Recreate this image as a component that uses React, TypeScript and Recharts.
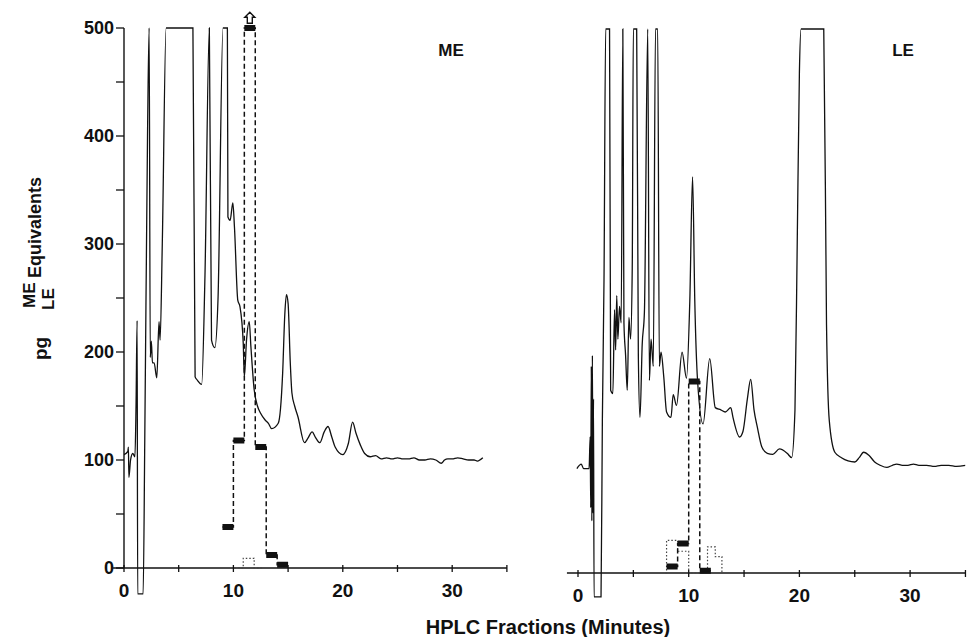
import { ComposedChart, Line, Scatter, XAxis, YAxis, ReferenceLine } from 'recharts'

// ---- data (minutes, pg equivalents) ----
const meTime = [
  0, 0.35, 0.4, 0.45, 0.6, 0.8, 1.0, 1.1, 1.2, 1.25, 1.75, 1.9, 2.15, 2.3, 2.4, 2.5, 2.6, 2.75, 3.0, 3.2,
  3.3, 3.5, 3.85, 6.3, 6.5, 6.7, 7.1, 7.4, 7.8, 8.0, 8.3, 8.6, 9.05, 9.45, 9.5, 9.7, 9.95, 10.1, 10.4, 10.6,
  10.9, 11.0, 11.2, 11.45, 11.6, 11.9, 12.2, 12.5, 12.9, 13.2, 13.5, 14.1, 14.5, 14.7, 14.85, 15.0, 15.2, 15.35, 15.6, 15.9,
  16.5, 16.8, 17.2, 17.5, 17.9, 18.3, 18.65, 19.0, 19.3, 20.0, 20.5, 20.9, 21.2, 21.6, 22.0, 22.5, 23.0, 23.5, 24.0, 24.5,
  25.0, 25.5, 26.0, 26.5, 27.0, 27.5, 28.0, 28.5, 29.0, 29.3, 29.6, 30.0, 30.5, 31.0, 31.5, 32.0, 32.3, 32.8,
]
const meSignal = [
  105, 108, 112, 84, 100, 106, 103, 150, 229, -24, -24, 120, 400, 500, 195, 210, 190, 190, 176, 228,
  211, 300, 500, 500, 177, 174, 170, 270, 500, 211, 204, 251, 500, 500, 325, 322, 338, 315, 248, 242,
  208, 177, 211, 228, 205, 165, 150, 143, 137, 134, 129, 134, 180, 235, 253, 245, 190, 162, 150, 140,
  116, 120, 126, 121, 116, 126, 131, 121, 112, 105, 115, 135, 125, 114, 106, 103, 104, 101, 102, 101,
  102, 101, 101, 102, 100, 100, 101, 100, 97, 100, 101, 101, 102, 101, 100, 100, 99, 102,
]

const leTime = [
  -0.1, 0.3, 0.5, 1.0, 1.1, 1.15, 1.2, 1.25, 1.3, 1.35, 1.4, 1.45, 2.08, 2.2, 2.35, 2.5, 2.85, 2.95, 3.15, 3.3,
  3.4, 3.5, 3.6, 3.75, 3.9, 4.05, 4.15, 4.3, 4.45, 4.6, 4.75, 4.9, 5.0, 5.3, 5.45, 5.6, 5.8, 6.0, 6.3, 6.45,
  6.6, 6.8, 7.0, 7.2, 7.35, 7.5, 7.75, 8.0, 8.4, 8.6, 8.9, 9.4, 9.8, 10.1, 10.35, 10.55, 10.8, 11.3, 11.9, 12.4,
  12.9, 13.3, 13.8, 14.0, 14.6, 14.9, 15.3, 15.6, 15.9, 16.2, 16.6, 17.1, 17.6, 18.2, 18.9, 19.3, 19.6, 19.8, 20.0, 20.15,
  22.2, 22.45, 22.7, 23.2, 23.8, 24.4, 25.0, 25.4, 25.8, 26.3, 26.8, 27.3, 27.9, 28.4, 28.8, 29.3, 29.8, 30.3, 30.8, 31.5,
  32.2, 32.8, 33.5, 34.2, 35.0,
]
const leSignal = [
  96, 100, 96, 96, 125, 60, 190, 48, 200, 55, 160, -22, -22, 140, 270, 500, 500, 168, 165, 242,
  205, 255, 215, 245, 230, 500, 230, 200, 168, 235, 215, 280, 500, 500, 200, 143, 210, 240, 500, 177,
  215, 190, 500, 500, 190, 203, 180, 148, 143, 164, 154, 203, 179, 250, 364, 250, 177, 137, 197, 152,
  150, 148, 152, 143, 125, 130, 160, 178, 150, 134, 116, 110, 109, 114, 110, 106, 150, 300, 460, 500,
  500, 228, 140, 111, 106, 103, 102, 106, 111, 108, 102, 99, 97, 99, 100, 99, 99, 100, 99, 99,
  98, 99, 99, 98, 99,
]

// radioimmunoassay of 1-min fractions (filled bars = own peptide, dotted = other peptide)
const meFracStart = [9, 10, 11, 12, 13, 14]
const meFracPg = [38, 118, 500, 112, 12, 3]
const meDotTime = [10.1, 10.9, 11.9, 12.7]
const meDotPg = [0, 9, 0, 0]
const meArrow = [{ t: 11.5, v: 509 }]

const leFracStart = [8, 9, 10, 11]
const leFracPg = [6, 27, 176, 2]
const leDotTime = [7.9, 8, 9, 10, 11.7, 12.4, 13, 13.1]
const leDotPg = [0, 30, 20, 0, 24, 15, 0, 0]

const xTicks = [0, 5, 10, 15, 20, 25, 30, 35]
const yTicks = [0, 50, 100, 150, 200, 250, 300, 350, 400, 450, 500]

const FONT = '"Liberation Sans", Arial, Helvetica, sans-serif'
const INK = '#111'
const Y_DOMAIN: [number, number] = [-30, 525]

const toPoints = (ts: number[], vs: number[]) => ts.map((t, i) => ({ t, v: vs[i] }))

function barSegments(starts: number[], vals: number[]) {
  const out: { t: number; v: number | null }[] = []
  starts.forEach((s, i) => {
    out.push({ t: s, v: vals[i] }, { t: s + 1, v: vals[i] }, { t: s + 1, v: null })
  })
  return out
}

function stepPoints(starts: number[], vals: number[]) {
  const pts = starts.map((s, i) => ({ t: s, v: vals[i] }))
  pts.push({ t: starts[starts.length - 1] + 1, v: vals[vals.length - 1] })
  return pts
}

function makeXTick(y0: number) {
  return (props: any) => {
    const { x, payload } = props
    const v = payload.value
    return (
      <g>
        <line x1={x} x2={x} y1={y0 - 3} y2={y0 + 4} stroke={INK} strokeWidth={1.3} />
        {v % 10 === 0 && (
          <text x={x} y={y0 + 29} textAnchor='middle' fontFamily={FONT} fontWeight={700} fontSize={19} fill={INK}>
            {v}
          </text>
        )}
      </g>
    )
  }
}

const ArrowShape = (props: any) => {
  const { cx, cy } = props
  const d = `M${cx},${cy - 6} L${cx + 5},${cy - 1} L${cx + 2.5},${cy - 1} L${cx + 2.5},${cy + 5} L${cx - 2.5},${cy + 5} L${cx - 2.5},${cy - 1} L${cx - 5},${cy - 1} Z`
  return <path d={d} fill='#fff' stroke={INK} strokeWidth={1.4} />
}

interface PanelProps {
  trace: { t: number; v: number }[]
  fracStart: number[]
  fracPg: number[]
  dotTime: number[]
  dotPg: number[]
  xDomain: [number, number]
  width: number
  y0: number
  pxPerPg: number
  margin: { left: number; right: number }
  showYAxis: boolean
  arrow?: { t: number; v: number }[]
}

function Panel(p: PanelProps) {
  const top = p.y0 - Y_DOMAIN[1] * p.pxPerPg
  const plotH = (Y_DOMAIN[1] - Y_DOMAIN[0]) * p.pxPerPg
  const xAxisH = 30
  const bottom = 637 - top - plotH - xAxisH
  return (
    <ComposedChart
      width={p.width}
      height={637}
      margin={{ top, bottom, left: p.margin.left, right: p.margin.right }}
    >
      <XAxis
        type='number'
        dataKey='t'
        domain={p.xDomain}
        ticks={xTicks}
        interval={0}
        axisLine={false}
        tickLine={false}
        height={xAxisH}
        allowDataOverflow
        tick={makeXTick(p.y0)}
      />
      {p.showYAxis ? (
        <YAxis
          type='number'
          domain={Y_DOMAIN}
          ticks={yTicks}
          interval={0}
          allowDataOverflow
          axisLine={false}
          tickSize={8}
          tickMargin={2}
          width={124}
          tickLine={{ stroke: INK, strokeWidth: 1.3 }}
          tickFormatter={(v: number) => (v % 100 === 0 ? String(v) : '')}
          tick={{ fontFamily: FONT, fontWeight: 700, fontSize: 18, fill: INK }}
        />
      ) : (
        <YAxis hide type='number' domain={Y_DOMAIN} allowDataOverflow />
      )}
      <ReferenceLine
        segment={[{ x: p.xDomain[0] === 0 ? -1 : p.xDomain[0], y: 0 }, { x: 35, y: 0 }]}
        ifOverflow='visible'
        stroke={INK}
        strokeWidth={1.4}
      />
      {p.showYAxis && (
        <ReferenceLine segment={[{ x: 0, y: 0 }, { x: 0, y: 500 }]} ifOverflow='visible' stroke={INK} strokeWidth={1.4} />
      )}
      <Line
        data={p.trace}
        dataKey='v'
        type='monotone'
        stroke={INK}
        strokeWidth={1.3}
        dot={false}
        activeDot={false}
        isAnimationActive={false}
      />
      <Line
        data={toPoints(p.dotTime, p.dotPg)}
        dataKey='v'
        type='stepAfter'
        stroke='#444'
        strokeWidth={1.2}
        strokeDasharray='1.5 2'
        dot={false}
        activeDot={false}
        isAnimationActive={false}
      />
      <Line
        data={stepPoints(p.fracStart, p.fracPg)}
        dataKey='v'
        type='stepAfter'
        stroke={INK}
        strokeWidth={1.5}
        strokeDasharray='5 3'
        dot={false}
        activeDot={false}
        isAnimationActive={false}
      />
      <Line
        data={barSegments(p.fracStart, p.fracPg)}
        dataKey='v'
        type='linear'
        stroke={INK}
        strokeWidth={6}
        strokeLinecap='butt'
        connectNulls={false}
        dot={false}
        activeDot={false}
        isAnimationActive={false}
      />
      {p.arrow && (
        <Scatter data={p.arrow} dataKey='v' shape={ArrowShape} isAnimationActive={false} />
      )}
    </ComposedChart>
  )
}

export default function App() {
  const mePx = 10.94
  const lePx = 11.07
  const leLeft = 578 - lePx - 540
  return (
    <div style={{ position: 'absolute', left: 0, top: 0, width: 976, height: 637, background: '#fff', fontFamily: FONT }}>
      <div style={{ position: 'absolute', left: 0, top: 0 }}>
        <Panel
          trace={toPoints(meTime, meSignal)}
          fracStart={meFracStart}
          fracPg={meFracPg}
          dotTime={meDotTime}
          dotPg={meDotPg}
          xDomain={[0, 35]}
          width={124 + 35 * mePx + 13}
          y0={568}
          pxPerPg={1.08}
          margin={{ left: 0, right: 13 }}
          showYAxis
          arrow={meArrow}
        />
      </div>
      <div style={{ position: 'absolute', left: 540, top: 0 }}>
        <Panel
          trace={toPoints(leTime, leSignal)}
          fracStart={leFracStart}
          fracPg={leFracPg}
          dotTime={leDotTime}
          dotPg={leDotPg}
          xDomain={[-1, 35]}
          width={436}
          y0={573}
          pxPerPg={1.088}
          margin={{ left: leLeft, right: 436 - leLeft - 36 * lePx }}
          showYAxis={false}
        />
      </div>
      <svg width={976} height={637} style={{ position: 'absolute', left: 0, top: 0, pointerEvents: 'none' }}>
        <g fontFamily={FONT} fontWeight={700} fill={INK}>
          <text x={451} y={56} fontSize={17} textAnchor='middle'>ME</text>
          <text x={903} y={56} fontSize={17} textAnchor='middle'>LE</text>
          <text x={548} y={634} fontSize={20} textAnchor='middle'>HPLC Fractions (Minutes)</text>
          <text transform='translate(47,360) rotate(-90)' fontSize={19}>pg</text>
          <text transform='translate(35,308) rotate(-90)' fontSize={17}>ME</text>
          <text transform='translate(54,310) rotate(-90)' fontSize={17}>LE</text>
          <text transform='translate(41,278) rotate(-90)' fontSize={18}>Equivalents</text>
        </g>
      </svg>
    </div>
  )
}
